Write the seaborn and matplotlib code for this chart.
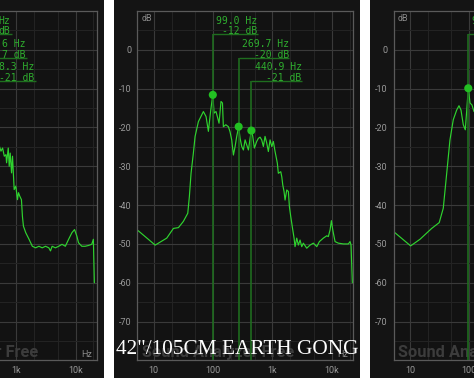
import matplotlib
matplotlib.use('Agg')
import numpy as np
import matplotlib.pyplot as plt
from matplotlib.patches import Rectangle
from matplotlib.ticker import FixedLocator, NullFormatter
import seaborn as sns

sns.set_theme(style='dark')
plt.rcParams['font.family'] = ['Roboto', 'DejaVu Sans']

# --- data (Hz, dB) ---
left_freq = [521, 555, 591, 631, 673, 690, 736, 764, 794, 836, 868, 926, 987, 1052, 1094,
             1151, 1227, 1275, 1325, 1449, 1648, 1871, 2127, 2417, 2746, 3121, 3548, 3783,
             4033, 4581, 5207, 5919, 6728, 7645, 8690, 9616, 10520, 11220, 12750, 14500,
             16480, 18720, 19950, 20730]
left_db = [-24.8, -26.1, -25.3, -27.4, -27.0, -29.1, -25.3, -30.0, -26.6, -31.7, -27.4, -36.0,
           -35.1, -38.6, -36.8, -37.7, -38.6, -42.9, -45.4, -47.1, -48.8, -50.6, -51.0, -50.6,
           -51.0, -50.6, -51.0, -51.8, -50.6, -51.0, -50.6, -50.1, -50.6, -48.8, -47.1, -46.3,
           -48.0, -49.7, -50.6, -50.6, -50.4, -50.1, -48.8, -60.0]

mid_freq = [5.3, 10.6, 16.6, 21.5, 26.1, 31.6, 37.5, 39.9, 42.6, 46.6, 49.8, 56.6, 68.7, 76.2,
            83.4, 91.4, 99.0, 104, 112, 118, 126, 136, 144, 149, 164, 181, 193, 206, 220, 235,
            250, 269.7, 285, 304, 324, 346, 369, 394, 420, 440.9, 466, 496, 543, 579, 618, 659,
            703, 750, 801, 853, 912, 973, 1035, 1106, 1150, 1208, 1256, 1380, 1435, 1491, 1567,
            1630, 1741, 1854, 1928, 2034, 2198, 2311, 2399, 2564, 2729, 2915, 3112, 3311, 3776,
            4293, 4884, 5572, 6166, 7194, 8204, 8730, 9333, 9818, 10360, 11320, 12860, 15620,
            18970, 20240, 21040, 22130]
mid_db = [-46.4, -50.3, -48.5, -46.0, -45.8, -44.2, -42.1, -37.8, -31.8, -26.6, -22.3, -18.5,
          -15.9, -17.2, -21.0, -15.5, -11.6, -16.3, -15.9, -17.2, -18.9, -13.3, -13.7, -19.8,
          -19.3, -19.8, -21.1, -23.2, -27.1, -24.9, -22.3, -19.8, -22.8, -24.9, -25.8, -23.2,
          -24.5, -25.8, -22.8, -20.8, -22.3, -25.3, -23.6, -22.8, -22.5, -23.2, -24.9, -22.3,
          -24.0, -26.2, -23.2, -24.9, -23.6, -26.2, -27.5, -29.2, -31.8, -31.4, -32.7, -34.8,
          -36.5, -38.7, -36.1, -36.5, -40.4, -43.0, -46.4, -48.5, -50.7, -48.5, -50.3, -49.0,
          -50.7, -49.8, -51.1, -50.3, -49.8, -50.7, -49.4, -48.5, -47.9, -48.1, -46.4, -44.0,
          -46.4, -49.4, -49.8, -50.0, -50.0, -49.4, -50.3, -60.0]
mid_peak_freq = [99.0, 269.7, 440.9]
mid_peak_db = [-11.6, -19.8, -20.8]
mid_label_db = [4, -2, -8]

right_freq = [5.3, 10.3, 14.8, 23.3, 31.2, 36.5, 41.7, 47.3, 53.8, 61.4, 67.1, 72.5, 79.3,
              85.7, 91.6, 96.2, 103, 111, 120]
right_db = [-46.8, -50.5, -48.8, -46.0, -44.5, -40.8, -31.8, -23.2, -18.0, -15.5, -14.4,
            -15.5, -19.3, -20.6, -14.6, -9.9, -13.7, -14.2, -15.9]
right_peak_freq = [96.2]
right_peak_db = [-9.9]
right_label_db = [4]

# marker labels of the left screenshot, only their right ends are in frame
left_label_text = ['Hz\ndB', '6 Hz\n7 dB', '8.3 Hz\n-21 dB']
left_label_db = [4, -2, -8]

x_ticks = [10, 100, 1000, 10000]
x_tick_labels = ['10', '100', '1k', '10k']
x_minor = [20, 50, 200, 500, 2000, 5000, 20000]
y_ticks = [0, -10, -20, -30, -40, -50, -60, -70]
y_minor = [5, -5, -15, -25, -35, -45, -55, -65, -75]
title = '42"/105CM EARTH GONG'

# --- layout in pixels ---
W, H = 474, 378
XLIM = (5.3, 22700)
YLIM = (-80, 10)
BOX_W = 215.7
BOX_TOP, BOX_BOT = 11, 360.4
DECADE_PX = BOX_W / np.log10(XLIM[1] / XLIM[0])

PANEL_BG = '#141414'
PLOT_BG = '#121212'
GRID_MAJOR = '#3a3a3a'
GRID_MINOR = '#232323'
SPINE = '#5a5a5a'
TICK_COLOR = '#9a9a9a'
CURVE = '#2fd32f'
MARK = '#22c022'
MARK_LINE = '#1f6e1f'
LABEL = '#2fae2f'
LABEL_KW = dict(textcoords='offset pixels', va='bottom', multialignment='right',
                linespacing=1.12, color=LABEL, fontsize=7, family='DejaVu Sans Mono')


def fig_rect(x0, y0, x1, y1):
    return [x0 / W, 1 - y1 / H, (x1 - x0) / W, (y1 - y0) / H]


def px_freq(px_from_left):
    return XLIM[0] * 10 ** (px_from_left / DECADE_PX)


def make_axes(fig, left_px):
    ax = fig.add_axes(fig_rect(left_px, BOX_TOP, left_px + BOX_W, BOX_BOT))
    ax.set_facecolor(PLOT_BG)
    ax.set_xscale('log')
    ax.set_xlim(*XLIM)
    ax.set_ylim(*YLIM)
    ax.set_xticks(x_ticks)
    ax.set_xticklabels(x_tick_labels)
    ax.xaxis.set_minor_locator(FixedLocator(x_minor))
    ax.xaxis.set_minor_formatter(NullFormatter())
    ax.set_yticks(y_ticks)
    ax.set_yticklabels([str(v) for v in y_ticks])
    ax.set_yticks(y_minor, minor=True)
    ax.grid(True, which='major', color=GRID_MAJOR, lw=0.8)
    ax.grid(True, which='minor', color=GRID_MINOR, lw=0.8)
    ax.tick_params(which='both', length=0, colors=TICK_COLOR, labelsize=6.5, pad=4)
    for s in ax.spines.values():
        s.set_color(SPINE)
        s.set_linewidth(0.9)
    ax.annotate('dB', xy=(0, 1), xycoords='axes fraction', xytext=(4, -7),
                textcoords='offset pixels', ha='left', va='center', color='#8a8a8a', fontsize=6.5)
    ax.annotate('Hz', xy=(1, 0), xycoords='axes fraction', xytext=(-4.5, 5.5),
                textcoords='offset pixels', ha='right', va='center', color='#8a8a8a', fontsize=6.5)
    ax.annotate('Sound Analyzer Free', xy=(0, 0), xycoords='axes fraction', xytext=(5, 3.7),
                textcoords='offset pixels', ha='left', va='baseline', color='#3c3c3c',
                fontsize=11.8, fontweight='bold')
    return ax


def draw_curve(ax, freq, db):
    sns.lineplot(x=freq, y=db, ax=ax, color=CURVE, lw=0.85, estimator=None, sort=False)
    ax.set_xlabel('')
    ax.set_ylabel('')


def draw_peaks(ax, freq, db, label_db):
    for f, d, lv in zip(freq, db, label_db):
        text = f'{f:.1f} Hz\n{round(d):d} dB'
        n = max(len(s) for s in text.split('\n'))
        ax.vlines(f, YLIM[0], lv, color=MARK_LINE, lw=1.3, alpha=0.9, zorder=3)
        ax.hlines(lv, f, f * 10 ** ((3.3 + n * 5.7 + 1.5) / DECADE_PX),
                  color=MARK_LINE, lw=1.0, zorder=3)
        ax.annotate(text, xy=(f, lv), xytext=(3.3, -2.2), ha='left', zorder=4, **LABEL_KW)
    sns.scatterplot(x=freq, y=db, ax=ax, color=MARK, s=34, edgecolor='none', zorder=5)


fig = plt.figure(figsize=(W / 100, H / 100), dpi=100)
fig.patch.set_facecolor('white')

# screenshot backgrounds
for x0, x1 in [(0, 104), (114, 360), (370, 474)]:
    fig.add_artist(Rectangle((x0 / W, 0), (x1 - x0) / W, 1, transform=fig.transFigure,
                             facecolor=PANEL_BG, edgecolor='none', zorder=0))

# left screenshot (right part only)
left_box = 96.7 - BOX_W
ax_l = make_axes(fig, left_box)
draw_curve(ax_l, left_freq, left_db)
for txt, lv, rx, ux in zip(left_label_text, left_label_db, [10, 25, 34], [11.7, 26.7, 36]):
    ax_l.hlines(lv, XLIM[0], px_freq(ux - left_box), color=MARK_LINE, lw=1.0, zorder=3)
    ax_l.annotate(txt, xy=(px_freq(rx - left_box), lv), xytext=(0, -2.2), ha='right', **LABEL_KW)

# middle screenshot
ax_m = make_axes(fig, 137.3)
draw_curve(ax_m, mid_freq, mid_db)
draw_peaks(ax_m, mid_peak_freq, mid_peak_db, mid_label_db)

# right screenshot (left part only)
ax_r = make_axes(fig, 393.5)
draw_curve(ax_r, right_freq, right_db)
draw_peaks(ax_r, right_peak_freq, right_peak_db, right_label_db)

fig.text(237 / W, 1 - 349.5 / H, title, ha='center', va='center', color='white',
         fontsize=15.3, family=['Liberation Serif', 'DejaVu Serif'], zorder=10)

fig.savefig('out.png', dpi=100, facecolor='white')
